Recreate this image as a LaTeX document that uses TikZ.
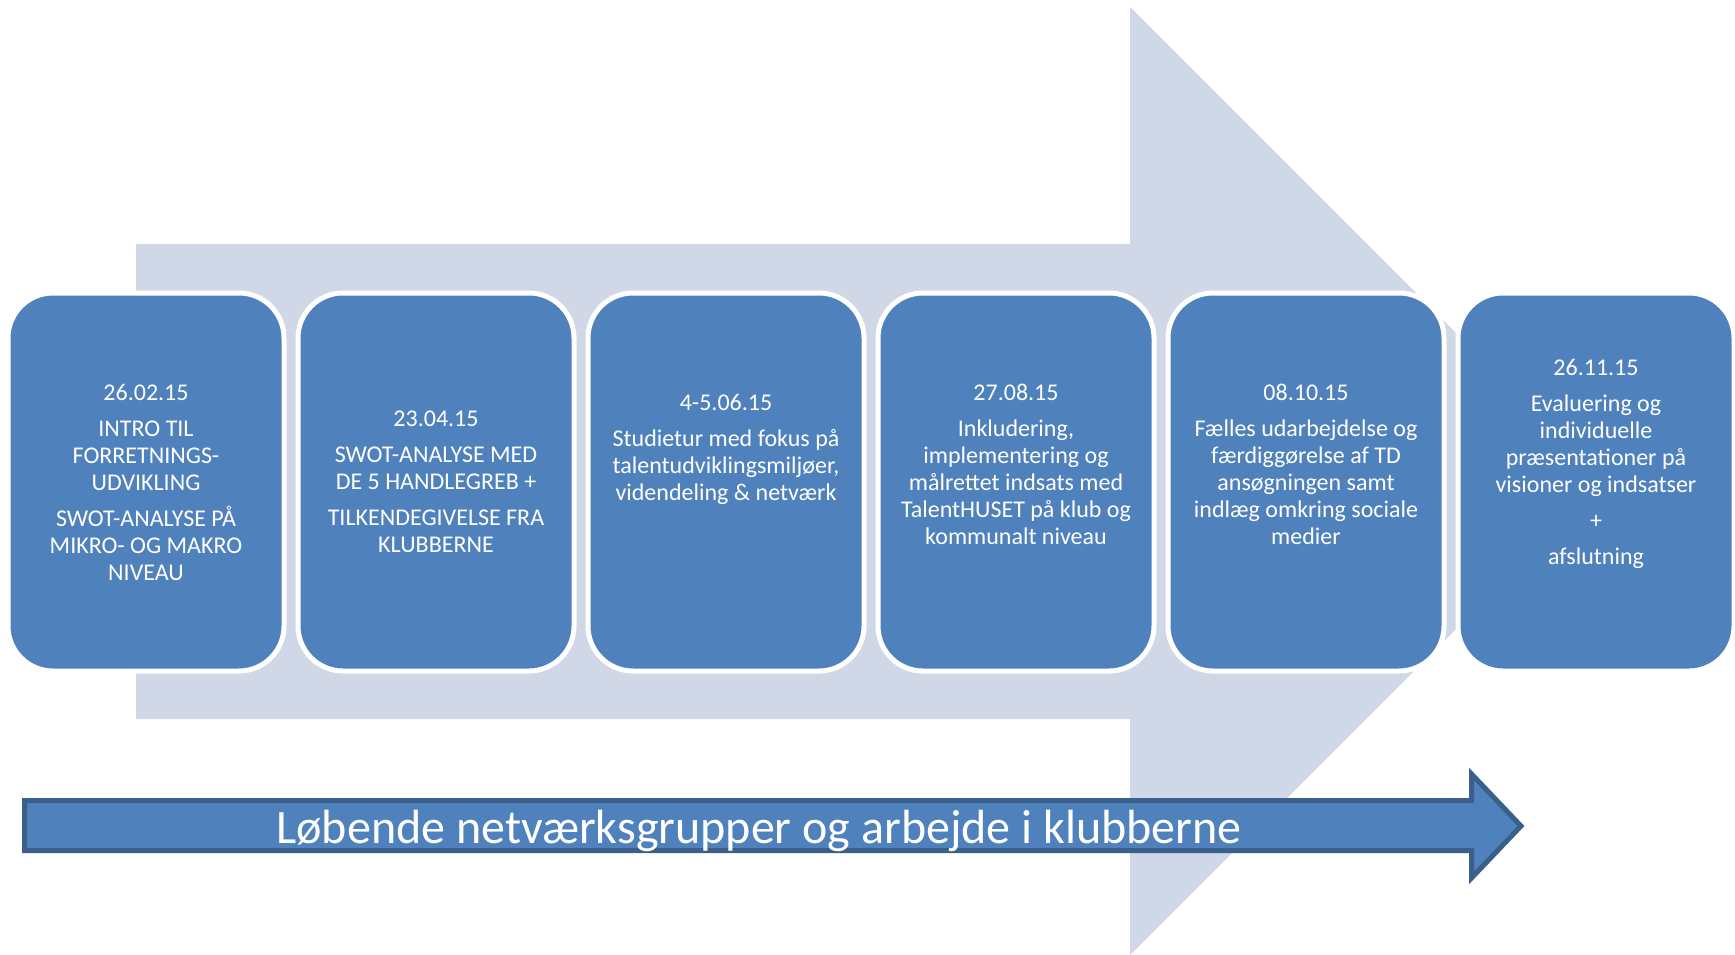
\documentclass[tikz,border=0pt]{standalone}
\usepackage{fontspec}
\setmainfont{Carlito}
\definecolor{paleblue}{HTML}{D0D8E8}
\definecolor{boxblue}{HTML}{4F81BD}
\definecolor{edgeblue}{HTML}{3A5F8B}

\begin{document}
\begin{tikzpicture}[x=1pt,y=-1pt,
  daybox/.style={rectangle, rounded corners=45pt, fill=boxblue, draw=white, line width=5pt,
    minimum width=276pt, minimum height=378pt, inner sep=0pt},
  daytext/.style={align=center, text=white, inner sep=0pt, font=\fontsize{24}{27}\selectfont}]
\useasboundingbox (0,0) rectangle (1735,954);
% big arrow in the back
\fill[paleblue] (136,244) -- (1130,244) -- (1130,7) -- (1604,481) -- (1130,955) -- (1130,719) -- (136,719) -- cycle;

% the six meetings
\node[daybox] (day1) at (146,482) {};
\node[daybox] (day2) at (436,482) {};
\node[daybox] (day3) at (726,482) {};
\node[daybox] (day4) at (1016,482) {};
\node[daybox] (day5) at (1306,482) {};
\node[daybox] (day6) at (1596,482) {};

\node[daytext] (txt1) at (day1) {26.02.15\\[9pt] INTRO TIL\\FORRETNINGS-\\UDVIKLING\\[9pt] SWOT-ANALYSE PÅ\\MIKRO- OG MAKRO\\NIVEAU};
\node[daytext] (txt2) at (day2) {23.04.15\\[9pt] SWOT-ANALYSE MED\\DE 5 HANDLEGREB +\\[9pt] TILKENDEGIVELSE FRA\\KLUBBERNE};
\node[daytext, yshift=33pt] (txt3) at (day3) {4-5.06.15\\[9pt] Studietur med fokus på\\talentudviklingsmiljøer,\\videndeling \& netværk};
\node[daytext, yshift=18pt] (txt4) at (day4) {27.08.15\\[9pt] Inkludering,\\implementering og\\målrettet indsats med\\TalentHUSET på klub og\\kommunalt niveau};
\node[daytext, yshift=18pt] (txt5) at (day5) {08.10.15\\[9pt] Fælles udarbejdelse og\\færdiggørelse af TD\\ansøgningen samt\\indlæg omkring sociale\\medier};
\node[daytext, yshift=18pt] (txt6) at (day6) {26.11.15\\[9pt] Evaluering og\\individuelle\\præsentationer på\\visioner og indsatser\\[9pt] +\\[9pt] afslutning};

% running arrow at the bottom
\draw[edgeblue, fill=boxblue, line width=5pt, line join=miter]
  (24.5,800.5) -- (1471.5,800.5) -- (1471.5,774) -- (1521,826) -- (1471.5,878) -- (1471.5,850.5) -- (24.5,850.5) -- cycle;
\node[anchor=base, text=white, font=\fontsize{48}{58}\selectfont, inner sep=0pt] (nettext) at (759,843)
  {Løbende netværksgrupper og arbejde i klubberne};
\end{tikzpicture}
\end{document}
